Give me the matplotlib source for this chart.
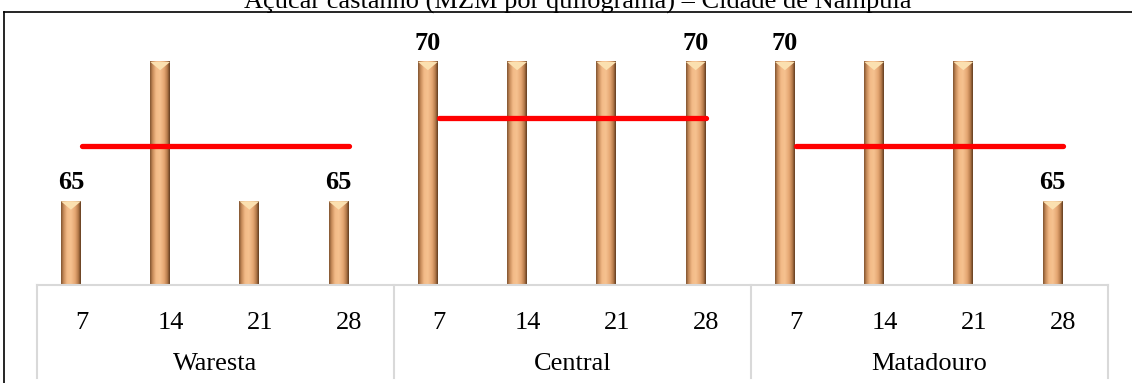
import numpy as np
import matplotlib.pyplot as plt
from matplotlib.colors import LinearSegmentedColormap
from matplotlib.lines import Line2D
from matplotlib.patches import Polygon

plt.rcParams['font.family'] = ['Liberation Serif', 'DejaVu Serif']

# data
groups = ['Waresta', 'Central', 'Matadouro']
days = ['7', '14', '21', '28']
prices = [
    [65, 70, 65, 65],
    [70, 70, 70, 70],
    [70, 70, 70, 65],
]
red_line = [67, 68, 67]
labelled = [0, 3]  # which bars of each group get a value label

W, H = 1132, 383
fig = plt.figure(figsize=(W / 100, H / 100), dpi=100)
ax = fig.add_axes([37 / W, (H - 285) / H, 1071 / W, 265 / H])
ax.set_xlim(-0.5, 11.5)
ax.set_ylim(62, 71.5)
ax.axis('off')

# copper cylinder gradient
cmap = LinearSegmentedColormap.from_list('copper_bar', [
    (0.0, '#7e5230'), (0.12, '#c68a58'), (0.3, '#f3bb88'),
    (0.5, '#f6c290'), (0.72, '#e4a571'), (0.88, '#b57a4a'), (1.0, '#5e3a1e')])
grad = np.linspace(0, 1, 64).reshape(1, -1)

bw = 0.224
off = -0.12
for g in range(len(groups)):
    for i, v in enumerate(prices[g]):
        pos = g * 4 + i
        x0 = pos + off - bw / 2
        ax.imshow(grad, cmap=cmap, extent=(x0, x0 + bw, 62, v),
                  aspect='auto', zorder=2, interpolation='bicubic')
        # bevel at the top
        ax.add_patch(Polygon([(x0, v), (x0 + bw, v), (x0 + bw / 2, v - 0.3)],
                             closed=True, fc='#fbe0b0', ec='none', zorder=3))
        if i in labelled:
            ax.text(pos + off, v + 0.43, str(v), ha='center', va='baseline',
                    fontsize=19, fontweight='bold', zorder=4)
    ax.plot([g * 4, g * 4 + 3], [red_line[g]] * 2, color='#ff0000', lw=3.8,
            solid_capstyle='round', zorder=5)

# category table below
trans = ax.get_xaxis_transform()
ax.plot([-0.5, 11.5], [0, 0], color='#d9d9d9', lw=1.5, transform=trans, clip_on=False)
for xs in [-0.5, 3.5, 7.5, 11.5]:
    ax.plot([xs, xs], [0, -0.35], color='#d9d9d9', lw=1.5, transform=trans, clip_on=False)
for g, name in enumerate(groups):
    for i, d in enumerate(days):
        ax.text(g * 4 + i, -0.145, d, transform=trans, ha='center', va='center',
                fontsize=19)
    ax.text(g * 4 + 1.5, -0.3, name, transform=trans, ha='center', va='center',
            fontsize=19)

# chart frame and title (cut by the image edge, as in the source)
fig.add_artist(Line2D([4 / W, 4 / W], [0, 1 - 12 / H], color='black', lw=1.2))
fig.add_artist(Line2D([4 / W, 1], [1 - 12 / H, 1 - 12 / H], color='black', lw=1.2))
fig.text(578 / W, 1 - 9 / H, 'Açúcar castanho (MZM por quilograma) – Cidade de Nampula',
         ha='center', va='baseline', fontsize=19)

fig.savefig('out.png', dpi=100)
